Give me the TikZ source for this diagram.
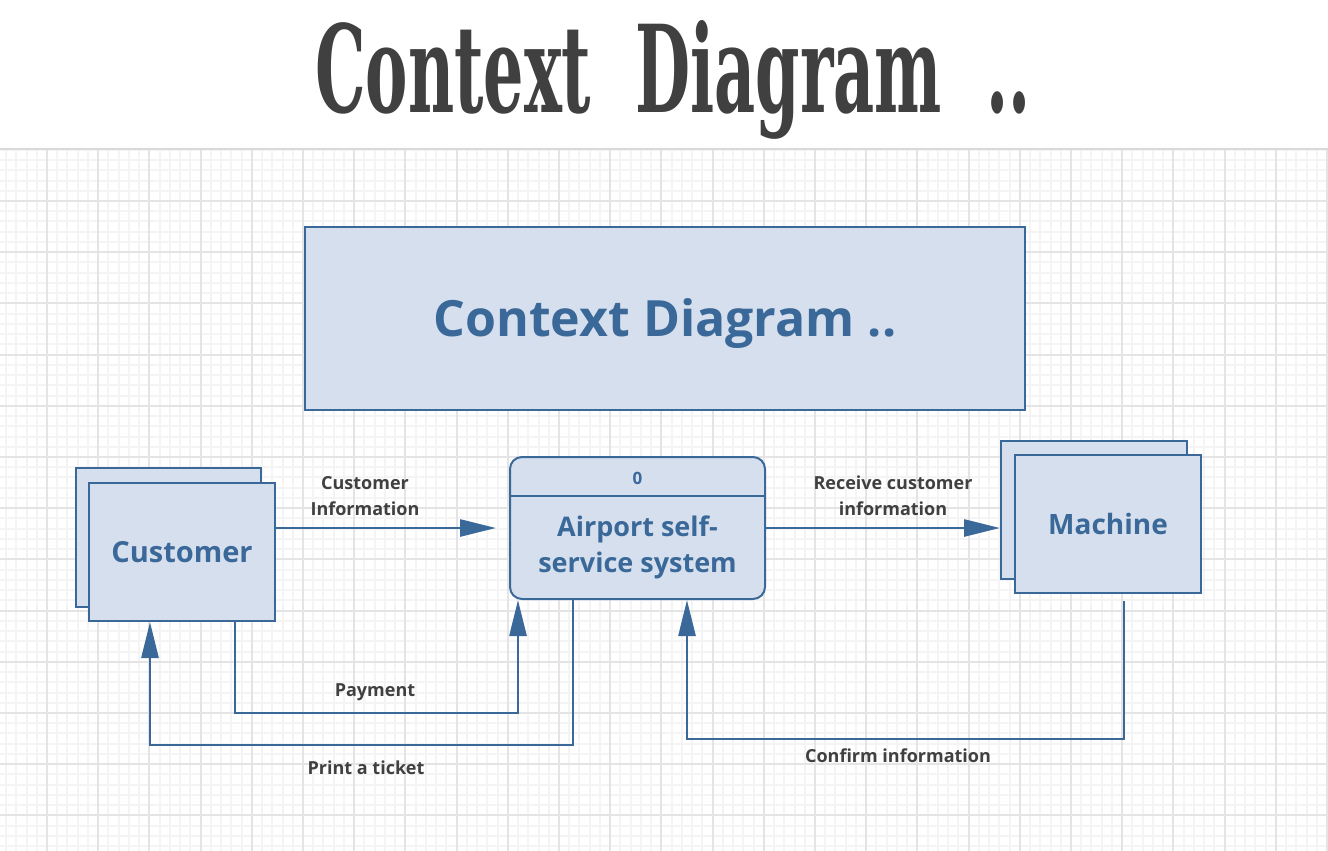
\documentclass[tikz,border=0pt]{standalone}
\usepackage{fontspec}
\setmainfont{Open Sans}
\newfontfamily\titlefont{DejaVu Serif}
\usetikzlibrary{arrows.meta}
\definecolor{boxfill}{HTML}{D6DFEE}
\definecolor{boxline}{HTML}{3A6898}
\definecolor{labelgray}{HTML}{404040}
\definecolor{titlegray}{HTML}{404040}
\definecolor{gridminor}{HTML}{F4F4F4}
\definecolor{gridmajor}{HTML}{E4E4E4}
\definecolor{sepline}{HTML}{D9D9D9}
\begin{document}
\begin{tikzpicture}[x=1pt,y=-1pt,
  ent/.style={draw=boxline, fill=boxfill, line width=2pt, minimum width=186pt, minimum height=138pt, inner sep=0pt},
  procbox/.style={draw=boxline, fill=boxfill, line width=2pt, rounded corners=12pt, minimum width=255pt, minimum height=142pt, inner sep=0pt},
  bigtext/.style={text=boxline, font=\bfseries\fontsize{27}{36}\selectfont, align=center},
  flow/.style={draw=boxline, line width=2.6pt, -{Triangle[length=36pt,width=17pt]}},
  lbl/.style={text=labelgray, font=\bfseries\fontsize{18}{26}\selectfont, align=center, inner sep=0pt},
  minorline/.style={draw=gridminor, line width=2pt},
  majorline/.style={draw=gridmajor, line width=2pt}]
\useasboundingbox (0,0) rectangle (1328,851);
\fill[white] (0,0) rectangle (1328,851);
% grid
\foreach \k in {0,...,130} \draw[minorline] ({round(-4.2+\k*10.24)},150) -- ++(0,701);
\foreach \k in {0,...,69} \draw[minorline] (0,{round(149.8+\k*10.24)}) -- ++(1328,0);
\foreach \k in {0,...,26} \draw[majorline] ({round(-4.2+\k*51.2)},150) -- ++(0,701);
\foreach \k in {1,...,14} \draw[majorline] (0,{round(149.8+\k*51.2)}) -- ++(1328,0);
\draw[draw=sepline, line width=2pt] (0,149) -- (1328,149);
% heading
\node[anchor=base west, inner sep=0pt, text=titlegray] (heading) at (315,112)
  {\resizebox{715pt}{92pt}{\titlefont\bfseries Context\ \ Diagram\ \ ..}};
% title box
\node[draw=boxline, fill=boxfill, line width=2pt, minimum width=720pt, minimum height=183pt, inner sep=0pt] (titlebox) at (665,318.5) {};
\node[text=boxline, font=\bfseries\fontsize{50}{56}\selectfont] (titletext) at (665,324) {Context Diagram ..};
% entities
\node[ent, minimum width=185pt, minimum height=139pt] (custB) at (168.5,537.5) {};
\node[ent] (custF) at (182,552) {};
\node[bigtext, font=\bfseries\fontsize{29}{36}\selectfont] (custT) at (182,552) {Customer};
\node[ent] (machB) at (1094,510) {};
\node[ent] (machF) at (1108,524) {};
\node[bigtext, font=\bfseries\fontsize{28}{36}\selectfont] (machT) at (1108,524) {Machine};
% process
\node[procbox] (proc) at (637.5,528) {};
\coordinate (divL) at (proc.west |- 0,496);
\coordinate (divR) at (proc.east |- 0,496);
\draw[draw=boxline, line width=2pt] (divL) -- (divR);
\node[text=boxline, font=\bfseries\fontsize{17}{20}\selectfont] (procnum) at (637.5,478) {0};
\node[bigtext] (procT) at (637.5,547) {Airport self-\\service system};
% flows
\draw[flow] (custF.east |- proc.west) -- ([xshift=-13pt]proc.west);
\draw[flow] (proc.east) -- ([xshift=-14pt]machF.west |- proc.east);
\draw[flow] ([xshift=53pt]custF.south) -- ++(0,91) -| ([xshift=-119.5pt]proc.south);
\draw[flow] ([xshift=-64.5pt]proc.south) -- ++(0,145) -| ([xshift=-32pt]custF.south);
\draw[flow] ([xshift=16pt,yshift=-7pt]machF.south) -- ++(0,138) -| ([xshift=49.5pt]proc.south);
% labels
\node[lbl] (l1) at (365,496) {Customer\\Information};
\node[lbl] (l2) at (893,496) {Receive customer\\information};
\node[lbl] (l3) at (375,692) {Payment};
\node[lbl] (l4) at (366,768) {Print a ticket};
\node[lbl] (l5) at (898,756) {Confirm information};
\end{tikzpicture}
\end{document}
